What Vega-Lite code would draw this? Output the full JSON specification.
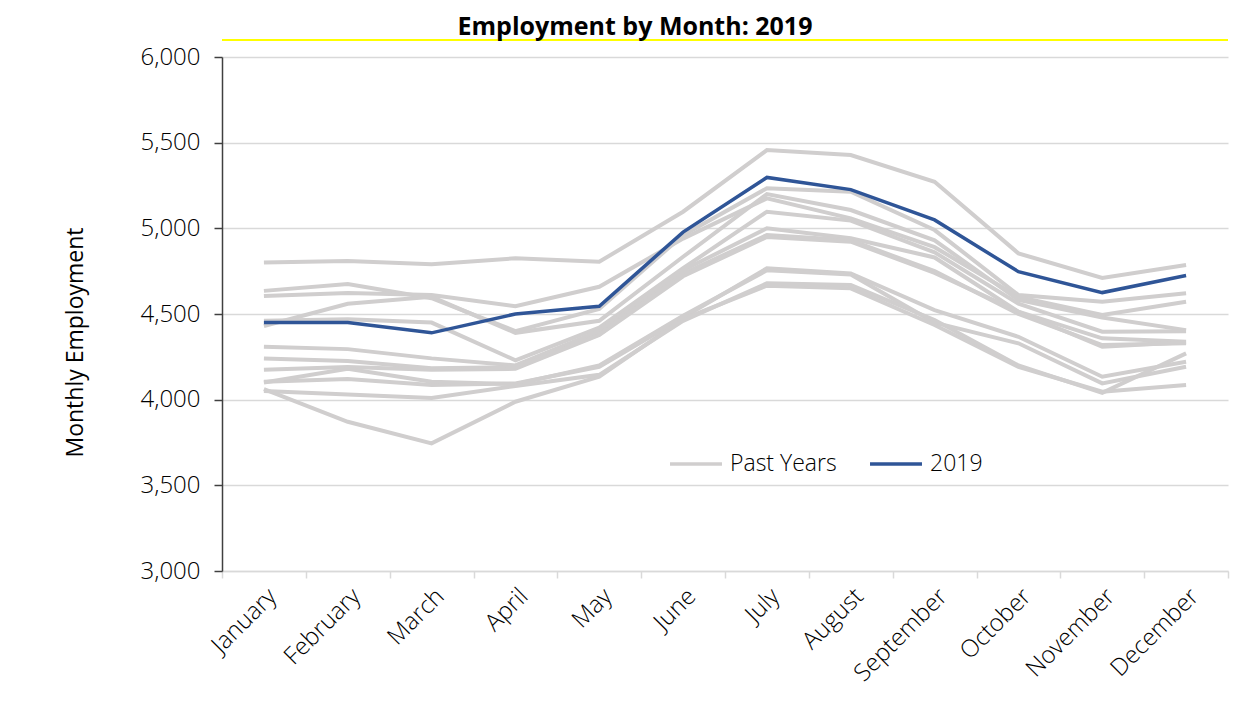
{
  "$schema": "https://vega.github.io/schema/vega-lite/v6.json",
  "width": 1006,
  "height": 514,
  "autosize": {"type": "none"},
  "padding": {"left": 222, "top": 57, "right": 26, "bottom": 136},
  "background": "white",
  "title": {"text": "Employment by Month: 2019", "font": "Open Sans", "fontSize": 25, "fontWeight": "bold", "color": "#000000", "anchor": "middle", "dx": -90, "offset": -1},
  "config": {"view": {"stroke": null}, "font": "Open Sans"},
  "datasets": {
    "emp": [
      {"year": "2007", "series": "Past Years", "month": "January", "value": 4800}, {"year": "2007", "series": "Past Years", "month": "February", "value": 4810}, {"year": "2007", "series": "Past Years", "month": "March", "value": 4790}, {"year": "2007", "series": "Past Years", "month": "April", "value": 4825}, {"year": "2007", "series": "Past Years", "month": "May", "value": 4805}, {"year": "2007", "series": "Past Years", "month": "June", "value": 5097}, {"year": "2007", "series": "Past Years", "month": "July", "value": 5457}, {"year": "2007", "series": "Past Years", "month": "August", "value": 5428}, {"year": "2007", "series": "Past Years", "month": "September", "value": 5272}, {"year": "2007", "series": "Past Years", "month": "October", "value": 4854}, {"year": "2007", "series": "Past Years", "month": "November", "value": 4710}, {"year": "2007", "series": "Past Years", "month": "December", "value": 4786},
      {"year": "2008", "series": "Past Years", "month": "January", "value": 4635}, {"year": "2008", "series": "Past Years", "month": "February", "value": 4675}, {"year": "2008", "series": "Past Years", "month": "March", "value": 4592}, {"year": "2008", "series": "Past Years", "month": "April", "value": 4400}, {"year": "2008", "series": "Past Years", "month": "May", "value": 4530}, {"year": "2008", "series": "Past Years", "month": "June", "value": 4960}, {"year": "2008", "series": "Past Years", "month": "July", "value": 5234}, {"year": "2008", "series": "Past Years", "month": "August", "value": 5214}, {"year": "2008", "series": "Past Years", "month": "September", "value": 4990}, {"year": "2008", "series": "Past Years", "month": "October", "value": 4611}, {"year": "2008", "series": "Past Years", "month": "November", "value": 4572}, {"year": "2008", "series": "Past Years", "month": "December", "value": 4621},
      {"year": "2009", "series": "Past Years", "month": "January", "value": 4605}, {"year": "2009", "series": "Past Years", "month": "February", "value": 4622}, {"year": "2009", "series": "Past Years", "month": "March", "value": 4611}, {"year": "2009", "series": "Past Years", "month": "April", "value": 4545}, {"year": "2009", "series": "Past Years", "month": "May", "value": 4659}, {"year": "2009", "series": "Past Years", "month": "June", "value": 4940}, {"year": "2009", "series": "Past Years", "month": "July", "value": 5175}, {"year": "2009", "series": "Past Years", "month": "August", "value": 5058}, {"year": "2009", "series": "Past Years", "month": "September", "value": 4890}, {"year": "2009", "series": "Past Years", "month": "October", "value": 4600}, {"year": "2009", "series": "Past Years", "month": "November", "value": 4494}, {"year": "2009", "series": "Past Years", "month": "December", "value": 4572},
      {"year": "2010", "series": "Past Years", "month": "January", "value": 4430}, {"year": "2010", "series": "Past Years", "month": "February", "value": 4560}, {"year": "2010", "series": "Past Years", "month": "March", "value": 4600}, {"year": "2010", "series": "Past Years", "month": "April", "value": 4390}, {"year": "2010", "series": "Past Years", "month": "May", "value": 4460}, {"year": "2010", "series": "Past Years", "month": "June", "value": 4834}, {"year": "2010", "series": "Past Years", "month": "July", "value": 5200}, {"year": "2010", "series": "Past Years", "month": "August", "value": 5107}, {"year": "2010", "series": "Past Years", "month": "September", "value": 4930}, {"year": "2010", "series": "Past Years", "month": "October", "value": 4582}, {"year": "2010", "series": "Past Years", "month": "November", "value": 4480}, {"year": "2010", "series": "Past Years", "month": "December", "value": 4406},
      {"year": "2011", "series": "Past Years", "month": "January", "value": 4460}, {"year": "2011", "series": "Past Years", "month": "February", "value": 4470}, {"year": "2011", "series": "Past Years", "month": "March", "value": 4450}, {"year": "2011", "series": "Past Years", "month": "April", "value": 4230}, {"year": "2011", "series": "Past Years", "month": "May", "value": 4420}, {"year": "2011", "series": "Past Years", "month": "June", "value": 4767}, {"year": "2011", "series": "Past Years", "month": "July", "value": 5097}, {"year": "2011", "series": "Past Years", "month": "August", "value": 5045}, {"year": "2011", "series": "Past Years", "month": "September", "value": 4860}, {"year": "2011", "series": "Past Years", "month": "October", "value": 4560}, {"year": "2011", "series": "Past Years", "month": "November", "value": 4397}, {"year": "2011", "series": "Past Years", "month": "December", "value": 4400},
      {"year": "2012", "series": "Past Years", "month": "January", "value": 4309}, {"year": "2012", "series": "Past Years", "month": "February", "value": 4295}, {"year": "2012", "series": "Past Years", "month": "March", "value": 4241}, {"year": "2012", "series": "Past Years", "month": "April", "value": 4200}, {"year": "2012", "series": "Past Years", "month": "May", "value": 4400}, {"year": "2012", "series": "Past Years", "month": "June", "value": 4755}, {"year": "2012", "series": "Past Years", "month": "July", "value": 5000}, {"year": "2012", "series": "Past Years", "month": "August", "value": 4942}, {"year": "2012", "series": "Past Years", "month": "September", "value": 4830}, {"year": "2012", "series": "Past Years", "month": "October", "value": 4513}, {"year": "2012", "series": "Past Years", "month": "November", "value": 4358}, {"year": "2012", "series": "Past Years", "month": "December", "value": 4338},
      {"year": "2013", "series": "Past Years", "month": "January", "value": 4240}, {"year": "2013", "series": "Past Years", "month": "February", "value": 4225}, {"year": "2013", "series": "Past Years", "month": "March", "value": 4183}, {"year": "2013", "series": "Past Years", "month": "April", "value": 4190}, {"year": "2013", "series": "Past Years", "month": "May", "value": 4380}, {"year": "2013", "series": "Past Years", "month": "June", "value": 4735}, {"year": "2013", "series": "Past Years", "month": "July", "value": 4961}, {"year": "2013", "series": "Past Years", "month": "August", "value": 4930}, {"year": "2013", "series": "Past Years", "month": "September", "value": 4750}, {"year": "2013", "series": "Past Years", "month": "October", "value": 4500}, {"year": "2013", "series": "Past Years", "month": "November", "value": 4319}, {"year": "2013", "series": "Past Years", "month": "December", "value": 4330},
      {"year": "2014", "series": "Past Years", "month": "January", "value": 4175}, {"year": "2014", "series": "Past Years", "month": "February", "value": 4190}, {"year": "2014", "series": "Past Years", "month": "March", "value": 4175}, {"year": "2014", "series": "Past Years", "month": "April", "value": 4180}, {"year": "2014", "series": "Past Years", "month": "May", "value": 4377}, {"year": "2014", "series": "Past Years", "month": "June", "value": 4720}, {"year": "2014", "series": "Past Years", "month": "July", "value": 4950}, {"year": "2014", "series": "Past Years", "month": "August", "value": 4922}, {"year": "2014", "series": "Past Years", "month": "September", "value": 4740}, {"year": "2014", "series": "Past Years", "month": "October", "value": 4513}, {"year": "2014", "series": "Past Years", "month": "November", "value": 4309}, {"year": "2014", "series": "Past Years", "month": "December", "value": 4335},
      {"year": "2015", "series": "Past Years", "month": "January", "value": 4105}, {"year": "2015", "series": "Past Years", "month": "February", "value": 4120}, {"year": "2015", "series": "Past Years", "month": "March", "value": 4085}, {"year": "2015", "series": "Past Years", "month": "April", "value": 4095}, {"year": "2015", "series": "Past Years", "month": "May", "value": 4192}, {"year": "2015", "series": "Past Years", "month": "June", "value": 4480}, {"year": "2015", "series": "Past Years", "month": "July", "value": 4767}, {"year": "2015", "series": "Past Years", "month": "August", "value": 4737}, {"year": "2015", "series": "Past Years", "month": "September", "value": 4523}, {"year": "2015", "series": "Past Years", "month": "October", "value": 4367}, {"year": "2015", "series": "Past Years", "month": "November", "value": 4134}, {"year": "2015", "series": "Past Years", "month": "December", "value": 4221},
      {"year": "2016", "series": "Past Years", "month": "January", "value": 4100}, {"year": "2016", "series": "Past Years", "month": "February", "value": 4180}, {"year": "2016", "series": "Past Years", "month": "March", "value": 4105}, {"year": "2016", "series": "Past Years", "month": "April", "value": 4090}, {"year": "2016", "series": "Past Years", "month": "May", "value": 4200}, {"year": "2016", "series": "Past Years", "month": "June", "value": 4490}, {"year": "2016", "series": "Past Years", "month": "July", "value": 4755}, {"year": "2016", "series": "Past Years", "month": "August", "value": 4730}, {"year": "2016", "series": "Past Years", "month": "September", "value": 4450}, {"year": "2016", "series": "Past Years", "month": "October", "value": 4329}, {"year": "2016", "series": "Past Years", "month": "November", "value": 4095}, {"year": "2016", "series": "Past Years", "month": "December", "value": 4192},
      {"year": "2017", "series": "Past Years", "month": "January", "value": 4062}, {"year": "2017", "series": "Past Years", "month": "February", "value": 3871}, {"year": "2017", "series": "Past Years", "month": "March", "value": 3745}, {"year": "2017", "series": "Past Years", "month": "April", "value": 3988}, {"year": "2017", "series": "Past Years", "month": "May", "value": 4134}, {"year": "2017", "series": "Past Years", "month": "June", "value": 4470}, {"year": "2017", "series": "Past Years", "month": "July", "value": 4665}, {"year": "2017", "series": "Past Years", "month": "August", "value": 4650}, {"year": "2017", "series": "Past Years", "month": "September", "value": 4436}, {"year": "2017", "series": "Past Years", "month": "October", "value": 4192}, {"year": "2017", "series": "Past Years", "month": "November", "value": 4046}, {"year": "2017", "series": "Past Years", "month": "December", "value": 4085},
      {"year": "2018", "series": "Past Years", "month": "January", "value": 4050}, {"year": "2018", "series": "Past Years", "month": "February", "value": 4030}, {"year": "2018", "series": "Past Years", "month": "March", "value": 4010}, {"year": "2018", "series": "Past Years", "month": "April", "value": 4080}, {"year": "2018", "series": "Past Years", "month": "May", "value": 4145}, {"year": "2018", "series": "Past Years", "month": "June", "value": 4460}, {"year": "2018", "series": "Past Years", "month": "July", "value": 4679}, {"year": "2018", "series": "Past Years", "month": "August", "value": 4669}, {"year": "2018", "series": "Past Years", "month": "September", "value": 4465}, {"year": "2018", "series": "Past Years", "month": "October", "value": 4200}, {"year": "2018", "series": "Past Years", "month": "November", "value": 4040}, {"year": "2018", "series": "Past Years", "month": "December", "value": 4270},
      {"year": "2019", "series": "2019", "month": "January", "value": 4450}, {"year": "2019", "series": "2019", "month": "February", "value": 4450}, {"year": "2019", "series": "2019", "month": "March", "value": 4390}, {"year": "2019", "series": "2019", "month": "April", "value": 4500}, {"year": "2019", "series": "2019", "month": "May", "value": 4545}, {"year": "2019", "series": "2019", "month": "June", "value": 4978}, {"year": "2019", "series": "2019", "month": "July", "value": 5297}, {"year": "2019", "series": "2019", "month": "August", "value": 5226}, {"year": "2019", "series": "2019", "month": "September", "value": 5049}, {"year": "2019", "series": "2019", "month": "October", "value": 4747}, {"year": "2019", "series": "2019", "month": "November", "value": 4625}, {"year": "2019", "series": "2019", "month": "December", "value": 4725}
    ],
    "band": [{"level": 6099}]
  },
  "layer": [
    {
      "data": {"name": "emp"},
      "transform": [{"filter": "datum.series === 'Past Years'"}],
      "mark": {"type": "line", "strokeWidth": 4},
      "encoding": {
        "x": {"field": "month", "type": "ordinal", "bandPosition": 0.5,
          "sort": ["January", "February", "March", "April", "May", "June", "July", "August", "September", "October", "November", "December"],
          "scale": {"type": "band", "paddingInner": 0, "paddingOuter": 0},
          "axis": {"title": null, "labelAngle": -45, "labelAlign": "right", "labelBaseline": "top", "labelFont": "Open Sans", "labelFontSize": 24, "labelFontWeight": 300, "labelColor": "#000000", "labelPadding": 6, "domainColor": "#D9D9D9", "domainWidth": 1.5, "tickColor": "#D9D9D9", "tickWidth": 1.5, "tickSize": 7, "tickBand": "extent", "grid": false}},
        "y": {"field": "value", "type": "quantitative",
          "scale": {"domain": [3000, 6000], "nice": false, "zero": false},
          "axis": {"title": "Monthly Employment", "titleFont": "Open Sans", "titleFontSize": 23, "titleFontWeight": "normal", "titleColor": "#000000", "titleX": -147, "titleY": 285, "titleAngle": -90, "titleAlign": "center", "titleBaseline": "middle", "tickCount": 6, "format": ",.0f", "labelFont": "Open Sans", "labelFontSize": 24, "labelFontWeight": 300, "labelColor": "#000000", "labelPadding": 14, "domainColor": "#404040", "domainWidth": 1.5, "tickColor": "#404040", "tickWidth": 1.5, "tickSize": 8, "gridColor": "#D9D9D9", "gridWidth": 1.5}},
        "detail": {"field": "year", "type": "nominal"},
        "color": {"field": "series", "type": "nominal",
          "scale": {"domain": ["Past Years", "2019"], "range": ["#D0CECE", "#2F5597"]},
          "legend": {"title": null, "orient": "none", "legendX": 446, "legendY": 379, "direction": "horizontal", "symbolType": "stroke", "symbolSize": 2700, "symbolStrokeWidth": 3.5, "labelFont": "Open Sans", "labelFontSize": 23, "labelFontWeight": 300, "labelColor": "#000000", "labelOffset": 6, "columnPadding": 26}}
      }
    },
    {
      "data": {"name": "emp"},
      "transform": [{"filter": "datum.series === '2019'"}],
      "mark": {"type": "line", "strokeWidth": 3.5},
      "encoding": {
        "x": {"field": "month", "type": "ordinal", "bandPosition": 0.5,
          "sort": ["January", "February", "March", "April", "May", "June", "July", "August", "September", "October", "November", "December"]},
        "y": {"field": "value", "type": "quantitative"},
        "color": {"field": "series", "type": "nominal"}
      }
    },
    {
      "data": {"name": "band"},
      "mark": {"type": "rule", "color": "#FFFF00", "strokeWidth": 2},
      "encoding": {"y": {"field": "level", "type": "quantitative"}}
    }
  ]
}
